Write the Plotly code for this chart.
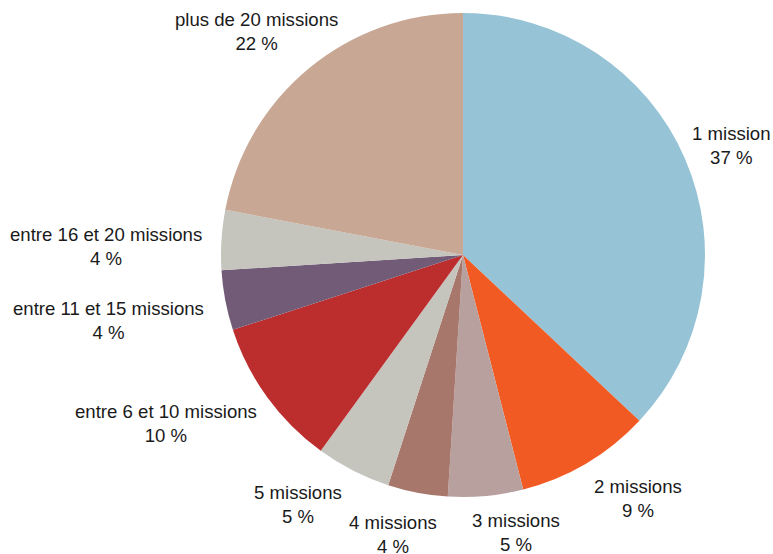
import plotly.graph_objects as go

labels = ["1 mission", "2 missions", "3 missions", "4 missions", "5 missions",
          "entre 6 et 10 missions", "entre 11 et 15 missions",
          "entre 16 et 20 missions", "plus de 20 missions"]
values = [37, 9, 5, 4, 5, 10, 4, 4, 22]
colors = ["#96C3D6", "#F15A22", "#B8A09F", "#A8776C", "#C5C5BE",
          "#BC2D2E", "#715B77", "#C5C5BE", "#C8A794"]

W, H = 773, 554
cx, cy, r = 463, 255, 242

# label block centres (pixels, from top-left)
label_pos = [(731, 146), (638, 498), (516, 532), (393, 534), (298, 504),
             (166, 423), (108, 320), (106, 246), (256, 31)]

fig = go.Figure(go.Pie(
    labels=labels, values=values, sort=False, direction="clockwise", rotation=0,
    marker=dict(colors=colors, line=dict(width=0)),
    textinfo="none",
    showlegend=False, hoverinfo="label+percent",
    domain=dict(x=[(cx - r) / W, (cx + r) / W], y=[(H - cy - r) / H, (H - cy + r) / H]),
))

for lab, val, (px, py) in zip(labels, values, label_pos):
    fig.add_annotation(
        x=px / W, y=1 - py / H, xref="paper", yref="paper",
        text=f"{lab}<br>{val} %", showarrow=False,
        xanchor="center", yanchor="middle", align="center",
        font=dict(family="Liberation Sans, Arial, sans-serif", size=18.6, color="#1a1a1a"),
    )

fig.update_layout(width=W, height=H, margin=dict(l=0, r=0, t=0, b=0),
                  paper_bgcolor="white", plot_bgcolor="white")
fig.write_html("out.html", config={"displayModeBar": False},
               post_script="document.body.style.margin='0';document.body.style.overflow='hidden';")
